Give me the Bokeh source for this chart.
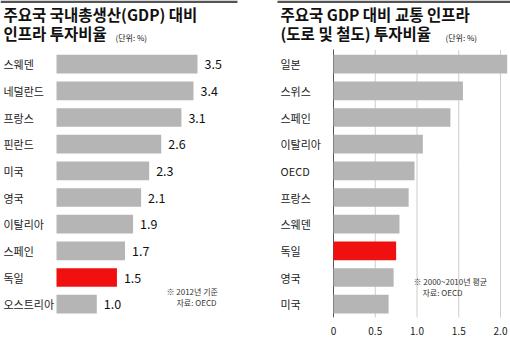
from bokeh.plotting import figure
from bokeh.models import Range1d, Label, FixedTicker, ColumnDataSource, LinearAxis
from bokeh.layouts import row
from bokeh.core.properties import value
from bokeh.embed import file_html
from bokeh.resources import INLINE

# ---- data ----
left_countries = ["스웨덴", "네덜란드", "프랑스", "핀란드", "미국", "영국", "이탈리아", "스페인", "독일", "오스트리아"]
left_values = [3.5, 3.4, 3.1, 2.6, 2.3, 2.1, 1.9, 1.7, 1.5, 1.0]
right_countries = ["일본", "스위스", "스페인", "이탈리아", "OECD", "프랑스", "스웨덴", "독일", "영국", "미국"]
right_values = [2.08, 1.55, 1.40, 1.07, 0.97, 0.90, 0.79, 0.75, 0.72, 0.66]
highlight = "독일"
x_ticks = [0, 0.5, 1.0, 1.5, 2.0]
x_tick_labels = ["0", "0.5", "1.0", "1.5", "2.0"]

FONT = "Noto Sans CJK KR"
GRAY = "#b5b5b5"
RED = "#f01010"
W, H = 255, 337
TOP = 51          # px above first band
BAND = 27         # px per category band
AXIS_H = 16       # px below the bars


def make_fig(countries, x0px, ppu):
    n = len(countries)
    frame_h = H - AXIS_H
    extra_bottom = (frame_h - TOP - n * BAND) / BAND
    p = figure(width=W, height=H,
               x_range=Range1d(-x0px / ppu, (W - x0px) / ppu),
               y_range=Range1d(-0.5 - extra_bottom, n - 0.5 + TOP / BAND),
               output_backend="svg", toolbar_location=None,
               x_axis_location=None, y_axis_location=None,
               min_border_top=0, min_border_bottom=AXIS_H,
               min_border_left=0, min_border_right=0,
               outline_line_color=None, background_fill_color="white",
               border_fill_color="white")
    p.grid.visible = False
    return p, frame_h


def lab(p, fh, x, yc, text, size, bold=False, color="#111111"):
    p.add_layout(Label(x=x, y=fh - yc, x_units="screen", y_units="screen",
                       text=text, text_font=FONT, text_font_size=size,
                       text_font_style="bold" if bold else "normal",
                       text_color=color, text_baseline="middle"))


def top_bar(p, ppu, x0px, x1px):
    # thin dark rule across the top of the panel
    xs = p.x_range.start
    ye = p.y_range.end
    p.quad(left=[xs + x0px / ppu], right=[xs + x1px / ppu], top=[ye], bottom=[ye - 2.5 / BAND],
           fill_color="#555555", line_color=None)


# ---- left chart ----
n1 = len(left_countries)
ppu1 = 40.29
p1, fh1 = make_fig(left_countries, 56, ppu1)
src1 = ColumnDataSource(dict(
    cat=left_countries, pos=[n1 - 1 - i for i in range(n1)], val=left_values,
    lbl=[f"{v:.1f}" for v in left_values],
    color=[RED if c == highlight else GRAY for c in left_countries],
    x0=[p1.x_range.start] * n1))
p1.hbar(y="pos", left=0, right="val", height=0.7, fill_color="color", line_color=None, source=src1)
p1.text(x="val", y="pos", text="lbl", x_offset=7, text_baseline="middle", text_align="left",
        text_font=value(FONT), text_font_size="12.5px", text_color="#111111", source=src1)
p1.text(x="x0", y="pos", text="cat", x_offset=3, text_baseline="middle", text_align="left",
        text_font=value(FONT), text_font_size="11px", text_color="#222222", source=src1)

top_bar(p1, ppu1, 0, 237)
lab(p1, fh1, 3, 17, "주요국 국내총생산(GDP) 대비", "15.5px", bold=True)
lab(p1, fh1, 3, 36, "인프라 투자비율", "15.5px", bold=True)
lab(p1, fh1, 115, 41, "(단위: %)", "8px")
lab(p1, fh1, 166, 295, "※ 2012년 기준", "8px", color="#333333")
lab(p1, fh1, 176, 306, "자료: OECD", "8px", color="#333333")

# ---- right chart ----
n2 = len(right_countries)
ppu2 = 83.5
p2, fh2 = make_fig(right_countries, 78, ppu2)
src2 = ColumnDataSource(dict(
    cat=right_countries, pos=[n2 - 1 - i for i in range(n2)], val=right_values,
    color=[RED if c == highlight else GRAY for c in right_countries],
    x0=[p2.x_range.start] * n2))
ax = LinearAxis(ticker=FixedTicker(ticks=x_ticks),
                major_label_overrides={t: l for t, l in zip(x_ticks, x_tick_labels)},
                axis_line_color=None, major_tick_line_color=None, minor_tick_line_color=None,
                major_label_standoff=3, major_label_text_font=FONT,
                major_label_text_font_size="10px", major_label_text_color="#222222")
p2.add_layout(ax, "below")
# grid lines spanning only the bar area
grid_src = ColumnDataSource(dict(x=x_ticks[1:], y0=[-0.5] * (len(x_ticks) - 1),
                                 y1=[n2 - 0.5 + 0.05] * (len(x_ticks) - 1)))
p2.segment(x0="x", x1="x", y0="y0", y1="y1", line_color="#9a9a9a", line_dash="1 1",
           line_width=1, source=grid_src)
p2.segment(x0=[x_ticks[0]], x1=[x_ticks[0]], y0=[-0.5], y1=[n2 - 0.5 + 0.05],
           line_color="#555555", line_width=1)
p2.hbar(y="pos", left=0, right="val", height=0.7, fill_color="color", line_color=None, source=src2)
p2.text(x="x0", y="pos", text="cat", x_offset=25, text_baseline="middle", text_align="left",
        text_font=value(FONT), text_font_size="11px", text_color="#222222", source=src2)

top_bar(p2, ppu2, 22, W)
lab(p2, fh2, 25, 17, "주요국 GDP 대비 교통 인프라", "15.5px", bold=True)
lab(p2, fh2, 25, 36, "(도로 및 철도) 투자비율", "15.5px", bold=True)
lab(p2, fh2, 190, 41, "(단위: %)", "8px")
lab(p2, fh2, 158, 285, "※ 2000~2010년 평균", "8px", color="#333333")
lab(p2, fh2, 167, 296, "자료: OECD", "8px", color="#333333")

layout = row(p1, p2)
open("out.html", "w").write(file_html(layout, INLINE))
